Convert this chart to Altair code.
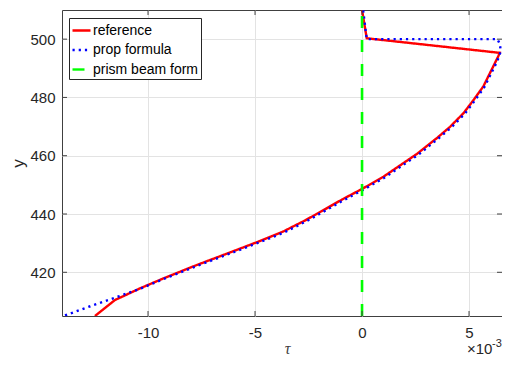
import altair as alt
import pandas as pd

names = ["reference", "prop formula", "prism beam form"]
colors = ["#ff0000", "#0000ff", "#00ff00"]
dashes = [[1, 0], [2.2, 4], [12, 12]]

# tau values in units of 1e-3
ref_tau = [-12.48, -11.54, -10.37, -9.28, -7.72, -6.17, -4.85, -3.68, -2.66, -1.88,
           -0.95, 0.0, 1.0, 2.56, 3.49, 4.11, 4.73, 5.20, 5.67, 5.98,
           6.21, 6.37, 6.43, 0.22, 0.0]
ref_y = [405.0, 410.5, 414.5, 417.9, 422.5, 426.8, 430.5, 434.0, 437.8, 441.0,
         444.9, 448.6, 452.8, 460.6, 466.0, 469.9, 474.5, 479.0, 483.8, 488.4,
         491.8, 494.2, 495.3, 500.3, 510.0]

prop_tau = [-13.88, -12.56, -11.54, -10.35, -9.24, -7.67, -6.11, -4.78, -3.60, -2.58,
            -1.80, -0.87, 0.08, 1.08, 2.64, 3.55, 4.17, 4.79, 5.26, 5.72,
            6.03, 6.26, 6.42, 6.48, 6.44, 6.33, 0.22, 0.05]
prop_y = [405.2, 408.7, 411.3, 414.4, 417.8, 422.3, 426.6, 430.3, 433.8, 437.6,
          440.8, 444.7, 448.4, 452.6, 460.4, 465.8, 469.7, 474.3, 478.8, 483.6,
          488.2, 491.6, 494.3, 496.0, 498.3, 500.0, 500.0, 510.0]

beam_tau = [0.0, 0.0]
beam_y = [405.0, 510.0]

x_ticks = [-10, -5, 0, 5]
y_ticks = [420, 440, 460, 480, 500]

rows = []
for name, ts, ys in zip(names, [ref_tau, prop_tau, beam_tau], [ref_y, prop_y, beam_y]):
    for i, (t, yv) in enumerate(zip(ts, ys)):
        rows.append({"series": name, "tau": t, "y": yv, "i": i})
df = pd.DataFrame(rows)

W, H = 440, 306
AX = "#404040"
FONT = "Liberation Sans"

xscale = alt.Scale(domain=[-14.02, 6.54], nice=False, zero=False)
yscale = alt.Scale(domain=[405, 510], nice=False, zero=False)

xaxis = alt.Axis(values=x_ticks, title="τ", labelExpr="'' + datum.value", grid=True,
                 titleX=225, titleY=37, titleBaseline="alphabetic",
                 titleFont="Liberation Serif", titleFontSize=16,
                 titleFontStyle="italic", titleFontWeight="normal",
                 titleColor="#404040", labelPadding=9)
yaxis = alt.Axis(values=y_ticks, title="y", labelExpr="'' + datum.value", grid=True,
                 titleX=-44, titleY=153, titleAngle=-90,
                 titleBaseline="middle", titleAlign="center",
                 titleFont=FONT, titleFontSize=17, titleFontWeight="normal",
                 titleColor="#262626", labelPadding=7)

X = alt.X("tau:Q", scale=xscale, axis=xaxis)
Y = alt.Y("y:Q", scale=yscale, axis=yaxis)

leg = alt.Legend(title=None, orient="none", legendX=7, legendY=8,
                 symbolType="stroke", symbolSize=324, symbolStrokeWidth=2.4,
                 labelFontSize=14, labelFont=FONT, labelColor="#000000",
                 labelOffset=1, rowPadding=1.5, padding=2,
                 fillColor="#ffffff", strokeColor="#262626")

color = alt.Color("series:N", scale=alt.Scale(domain=names, range=colors), legend=leg)
dash = alt.StrokeDash("series:N", scale=alt.Scale(domain=names, range=dashes), legend=leg)

base = alt.Chart(df).encode(x=X, y=Y, color=color, strokeDash=dash, order="i:Q")

lines = []
for n in names:
    sw = 2.6 if n == "prism beam form" else 2.4
    lines.append(base.transform_filter(alt.datum.series == n).mark_line(strokeWidth=sw, clip=True))

xt = pd.DataFrame({"tau": x_ticks})
yt = pd.DataFrame({"y": y_ticks})
tick_b = alt.Chart(xt).mark_rule(color=AX, strokeWidth=1).encode(
    x=X, y=alt.value(H), y2=alt.value(H - 5))
tick_t = alt.Chart(xt).mark_rule(color=AX, strokeWidth=1).encode(
    x=X, y=alt.value(0), y2=alt.value(5))
tick_l = alt.Chart(yt).mark_rule(color=AX, strokeWidth=1).encode(
    y=Y, x=alt.value(0), x2=alt.value(5))
tick_r = alt.Chart(yt).mark_rule(color=AX, strokeWidth=1).encode(
    y=Y, x=alt.value(W), x2=alt.value(W - 5))

exp_main = alt.Chart(pd.DataFrame({"t": ["×10"]})).mark_text(
    align="left", baseline="alphabetic", font=FONT, fontSize=15, color="#262626"
).encode(text="t:N", x=alt.value(405), y=alt.value(344))
exp_sup = alt.Chart(pd.DataFrame({"t": ["-3"]})).mark_text(
    align="left", baseline="alphabetic", font=FONT, fontSize=11, color="#262626"
).encode(text="t:N", x=alt.value(430), y=alt.value(337))

chart = alt.layer(*lines, tick_b, tick_t, tick_l, tick_r, exp_main, exp_sup).properties(
    width=W, height=H,
    autosize=alt.AutoSizeParams(type="none"),
    padding={"left": 54, "top": 2, "right": 0, "bottom": 41},
).configure_view(
    stroke=AX, strokeWidth=1
).configure_axis(
    domain=False, ticks=False,
    gridColor="#e3e3e3", gridWidth=1,
    labelFont=FONT, labelFontSize=15, labelColor="#262626",
)

chart.save("out.html", embed_options={"renderer": "svg", "actions": False})
